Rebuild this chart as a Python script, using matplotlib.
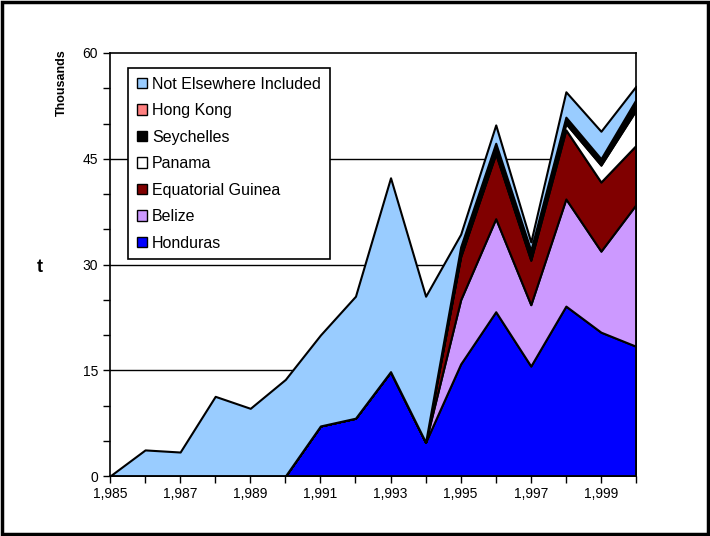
import matplotlib.pyplot as plt
import numpy as np
from matplotlib.patches import Rectangle, Patch

plt.rcParams['font.family'] = ['Liberation Sans', 'DejaVu Sans']

# 数据 (千吨)
years = np.arange(1985, 2001)
honduras = [0, 0, 0, 0, 0, 0, 7.1, 8.2, 14.8, 4.8, 15.9, 23.3, 15.6, 24.1, 20.4, 18.4]
belize = [0, 0, 0, 0, 0, 0, 0, 0, 0, 0, 9.1, 13.2, 8.7, 15.2, 11.5, 20.1]
eq_guinea = [0, 0, 0, 0, 0, 0, 0, 0, 0, 0, 6.1, 9.2, 6.3, 9.8, 9.8, 8.4]
panama = [0, 0, 0, 0, 0, 0, 0, 0, 0, 0, 0.2, 0.2, 0.2, 0.9, 2.4, 5.0]
seychelles = [0, 0, 0, 0, 0, 0, 0, 0, 0, 0, 1.2, 1.3, 1.2, 0.9, 0.9, 1.4]
hong_kong = [0, 0, 0, 0, 0, 0, 0, 0, 0, 0, 0, 0, 0, 0, 0, 0.1]
not_elsewhere = [0, 3.7, 3.4, 11.3, 9.6, 13.7, 12.9, 17.3, 27.5, 20.7, 1.8, 2.6, 1.2, 3.6, 3.9, 1.9]

names = ['Honduras', 'Belize', 'Equatorial Guinea', 'Panama', 'Seychelles',
         'Hong Kong', 'Not Elsewhere Included']
series = [honduras, belize, eq_guinea, panama, seychelles, hong_kong, not_elsewhere]
colors = ['#0000FF', '#CC99FF', '#800000', '#FFFFFF', '#000000', '#FF8080', '#99CCFF']

fig = plt.figure(figsize=(7.1, 5.36), dpi=100)
ax = fig.add_axes([110 / 710, 60 / 536, 526 / 710, 423 / 536])

ax.stackplot(years, *series, colors=colors, edgecolor='black', linewidth=1.5, zorder=2)

# 网格线
for y in (15, 30, 45):
    ax.axhline(y, color='black', linewidth=1, zorder=1)

ax.set_xlim(1985, 2000)
ax.set_ylim(0, 60)
ax.set_xticks(years)
ax.set_xticklabels([f'{y:,}' if y % 2 == 1 else '' for y in years])
ax.set_yticks([0, 15, 30, 45, 60])
ax.set_yticks(np.arange(0, 61, 5), minor=True)
ax.tick_params(axis='both', which='both', direction='out', length=5, width=1,
               labelsize=10, color='black')
ax.tick_params(axis='x', pad=3)
for s in ax.spines.values():
    s.set_linewidth(1.2)

fig.text(62 / 710, 1 - 83 / 536, 'Thousands', rotation=90, fontsize=9,
         fontweight='bold', ha='center', va='center')
fig.text(40 / 710, 1 - 268 / 536, 't', fontsize=13, fontweight='bold',
         ha='center', va='center')

# 图例 (倒序)
handles = [Patch(facecolor=c, edgecolor='black', linewidth=1) for c in colors][::-1]
leg = ax.legend(handles, names[::-1], loc='upper left', bbox_to_anchor=(0.034, 0.965),
                borderaxespad=0, fontsize=11.5, handlelength=0.65, handleheight=0.65,
                handletextpad=0.3, labelspacing=0.72, borderpad=0.55, fancybox=False,
                framealpha=1, edgecolor='black')
leg.get_frame().set_linewidth(1.2)

fig.patches.append(Rectangle((0.003, 0.004), 0.994, 0.992, transform=fig.transFigure,
                             fill=False, edgecolor='black', linewidth=2.5))

plt.savefig('out.png', dpi=100)
